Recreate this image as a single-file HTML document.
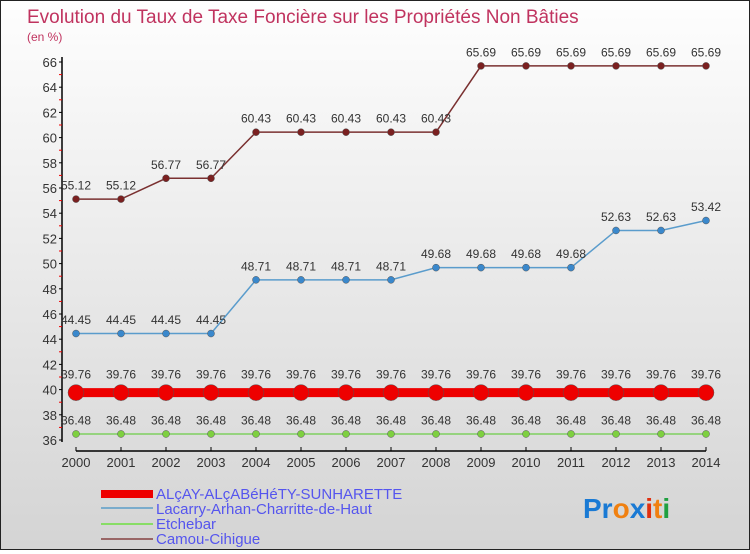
<!DOCTYPE html>
<html><head><meta charset="utf-8"><style>
body{margin:0;width:750px;height:550px;overflow:hidden;font-family:"Liberation Sans",sans-serif}
#wrap{position:relative;width:748px;height:548px;border:1px solid #222;background:linear-gradient(#fefefe,#d4d4d4)}
</style></head><body>
<div id="wrap">
<svg id="chart" width="748" height="548" xmlns="http://www.w3.org/2000/svg">
<text x="26" y="22" font-size="19" fill="#c0335f" font-weight="normal">Evolution du Taux de Taxe Foncière sur les Propriétés Non Bâties</text>
<text x="26" y="40" font-size="12" fill="#c0335f">(en %)</text>
<g id="axes"></g><g id="series"></g>
<g font-size="15" fill="#5555ee">
<rect x="100" y="489" width="52" height="8" fill="#e00"/>
<text x="155" y="498">ALçAY-ALçABéHéTY-SUNHARETTE</text>
<rect x="100" y="506" width="52" height="2" fill="#7aaccc"/>
<text x="155" y="513">Lacarry-Arhan-Charritte-de-Haut</text>
<rect x="100" y="522" width="52" height="2" fill="#88dd66"/>
<text x="155" y="528">Etchebar</text>
<rect x="100" y="537" width="52" height="2" fill="#996666"/>
<text x="155" y="543">Camou-Cihigue</text>
</g>
<text x="582" y="517" font-size="28" font-weight="bold"><tspan fill="#1a7ad4">Pr</tspan><tspan fill="#f08010">o</tspan><tspan fill="#1a7ad4">x</tspan><tspan fill="#e03010">i</tspan><tspan fill="#f08010">t</tspan><tspan fill="#20a040">i</tspan></text>
</svg></div>
<script>
const years=[2000,2001,2002,2003,2004,2005,2006,2007,2008,2009,2010,2011,2012,2013,2014];
const yTicks=[36,38,40,42,44,46,48,50,52,54,56,58,60,62,64,66];
const alcay=[39.76,39.76,39.76,39.76,39.76,39.76,39.76,39.76,39.76,39.76,39.76,39.76,39.76,39.76,39.76];
const lacarry=[44.45,44.45,44.45,44.45,48.71,48.71,48.71,48.71,49.68,49.68,49.68,49.68,52.63,52.63,53.42];
const etchebar=[36.48,36.48,36.48,36.48,36.48,36.48,36.48,36.48,36.48,36.48,36.48,36.48,36.48,36.48,36.48];
const camou=[55.12,55.12,56.77,56.77,60.43,60.43,60.43,60.43,60.43,65.69,65.69,65.69,65.69,65.69,65.69];
const NS="http://www.w3.org/2000/svg";
const X=i=>75+i*45, Y=v=>439-(v-36)*(439-61)/30;
function mk(t,a,p){const e=document.createElementNS(NS,t);for(const k in a)e.setAttribute(k,a[k]);p.appendChild(e);return e;}
const ax=document.getElementById('axes'), sg=document.getElementById('series');
let yl=mk('line',{x1:61,y1:56,x2:61,y2:441,stroke:'#000','stroke-width':1.5},ax);


yTicks.forEach(v=>{
  mk('line',{x1:58,x2:61,y1:Y(v),y2:Y(v),stroke:'#000'},ax);
  if(v<66)mk('line',{x1:58,x2:61,y1:Y(v+1),y2:Y(v+1),stroke:'#e00'},ax);
  const t=mk('text',{x:56,y:Y(v)+5,'text-anchor':'end','font-size':13,fill:'#333'},ax);t.textContent=v;
  
  
});
let xl=mk('line',{x1:75,y1:450,x2:X(14),y2:450,stroke:'#000','stroke-width':1.5},ax);


years.forEach((y,i)=>{
  mk('line',{x1:X(i),x2:X(i),y1:446,y2:450,stroke:'#000'},ax);
  const t=mk('text',{x:X(i),y:466,'text-anchor':'middle','font-size':13,fill:'#333'},ax);t.textContent=y;
  
  
});
function series(d,name,col,lw,r,pc){
  const g=mk('g',{},sg);
  
  
  let p='';d.forEach((v,i)=>p+=(i?'L':'M')+X(i)+' '+Y(v));
  mk('path',{d:p,fill:'none',stroke:col,'stroke-width':lw},g);
  d.forEach((v,i)=>{
    const c=mk('circle',{cx:X(i),cy:Y(v),r:r,fill:pc,stroke:'#555','stroke-width':0.5},g);
    
    
    const t=mk('text',{x:X(i),y:Y(v)-(r+6),'text-anchor':'middle','font-size':12,fill:'#333'},g);
    t.textContent=v.toFixed(2);
    
    
  });
}
series(camou,'camou','#7a3030',1.5,3.5,'#7a2020');
series(lacarry,'lacarry','#5a9ccc',1.5,3.5,'#3a88cc');
series(etchebar,'etchebar','#7ed060',1.5,3.5,'#7ed040');
series(alcay,'alcay','#e00',9,8,'#e00');
</script>
</body></html>
